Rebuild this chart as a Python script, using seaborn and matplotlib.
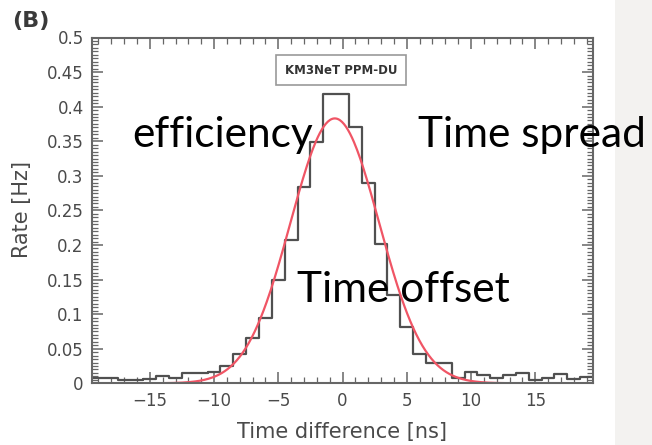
import numpy as np
import pandas as pd
import matplotlib
matplotlib.use("Agg")
import matplotlib.pyplot as plt
from matplotlib.ticker import MultipleLocator, FixedLocator, FixedFormatter
from matplotlib.patches import Rectangle
import seaborn as sns

# Coincidence rate in 1 ns bins of the time difference
time_bins = list(range(-19, 20))
rate_hz = [0.008, 0.008, 0.005, 0.005, 0.006, 0.010, 0.007, 0.015, 0.015, 0.017,
           0.025, 0.043, 0.066, 0.094, 0.149, 0.207, 0.284, 0.349, 0.418, 0.418,
           0.371, 0.289, 0.201, 0.128, 0.082, 0.043, 0.029, 0.029, 0.007, 0.017,
           0.012, 0.007, 0.012, 0.015, 0.005, 0.007, 0.014, 0.006, 0.009]

# Gaussian fit: efficiency (amplitude), time offset (mean), time spread (sigma)
fit_amplitude = 0.383
fit_mean = -0.6
fit_sigma = 3.45

x_ticks = [-15, -10, -5, 0, 5, 10, 15]
x_tick_labels = ["\u221215", "\u221210", "\u22125", "0", "5", "10", "15"]
y_ticks = [0, 0.05, 0.1, 0.15, 0.2, 0.25, 0.3, 0.35, 0.4, 0.45, 0.5]
y_tick_labels = ["0", "0.05", "0.1", "0.15", "0.2", "0.25", "0.3", "0.35", "0.4", "0.45", "0.5"]

sns.set_style("ticks")
plt.rcParams["font.family"] = ["DejaVu Sans"]

W, H = 652, 445
fig = plt.figure(figsize=(W / 100, H / 100), dpi=100)
fig.patch.set_facecolor("white")

# light side panel on the right
fig.patches.append(Rectangle((615 / W, 0), 1 - 615 / W, 1, transform=fig.transFigure,
                             facecolor="#f3f2f0", edgecolor="none", zorder=0))

ax = fig.add_axes([92 / W, 1 - 383.3 / H, (593 - 92) / W, (383.3 - 37.5) / H])
ax.set_facecolor("white")

df = pd.DataFrame({"dt": time_bins, "rate": rate_hz})
sns.histplot(data=df, x="dt", weights="rate", binwidth=1, binrange=(-19.5, 19.5),
             element="step", fill=False, color="#505050", linewidth=1.6, ax=ax)

fit_x = np.linspace(-19.5, 19.5, 500)
fit_df = pd.DataFrame({"dt": fit_x,
                       "rate": fit_amplitude * np.exp(-0.5 * ((fit_x - fit_mean) / fit_sigma) ** 2)})
sns.lineplot(data=fit_df, x="dt", y="rate", color="#f05565", linewidth=1.6, ax=ax)

ax.set_xlim(-19.5, 19.5)
ax.set_ylim(0, 0.5)
ax.xaxis.set_major_locator(FixedLocator(x_ticks))
ax.xaxis.set_major_formatter(FixedFormatter(x_tick_labels))
ax.xaxis.set_minor_locator(MultipleLocator(1))
ax.yaxis.set_major_locator(FixedLocator(y_ticks))
ax.yaxis.set_major_formatter(FixedFormatter(y_tick_labels))
ax.yaxis.set_minor_locator(MultipleLocator(0.005))

for s in ax.spines.values():
    s.set_visible(True)
    s.set_color("#666666")
    s.set_linewidth(1.5)

ax.tick_params(which="both", direction="in", top=True, right=True, color="#666666")
ax.tick_params(which="major", length=8, width=1.1, labelsize=12, labelcolor="#4a4a4a", pad=6)
ax.tick_params(which="minor", length=4, width=0.9)
ax.set_xlabel("")
ax.set_ylabel("")

fig.text(342 / W, 1 - 432 / H, "Time difference [ns]", ha="center", va="center",
         fontsize=15, color="#4a4a4a")
fig.text(22 / W, 1 - 209 / H, "Rate [Hz]", ha="center", va="center", rotation=90,
         fontsize=15, color="#4a4a4a")
fig.text(12 / W, 1 - 21 / H, "(B)", ha="left", va="center", fontsize=16,
         fontweight="bold", color="#3a3a3a")

ax.text(0.497, 0.906, "KM3NeT PPM-DU", transform=ax.transAxes, ha="center", va="center",
        fontsize=8.5, fontweight="bold", color="#333333",
        bbox=dict(boxstyle="square,pad=0.7", facecolor="white", edgecolor="#999999", linewidth=1.2))

# parameter annotations
ann = dict(fontsize=30.5, color="black", family=["Lato", "DejaVu Sans"], va="baseline", ha="left")
fig.text(132 / W, 1 - 147 / H, "efficiency", **ann)
fig.text(418 / W, 1 - 147 / H, "Time spread", **ann)
fig.text(297 / W, 1 - 302 / H, "Time offset", **ann)

fig.savefig("out.png", dpi=100)
